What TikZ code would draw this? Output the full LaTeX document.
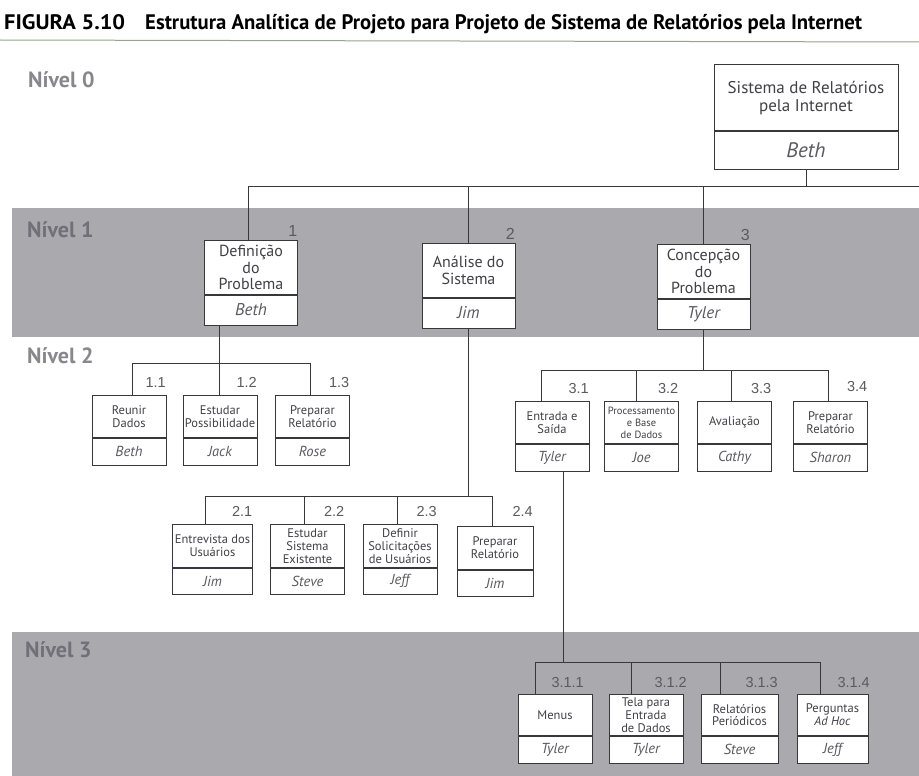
\documentclass[tikz,border=0pt]{standalone}
\usepackage{fontspec}
\setmainfont{PT Sans}
\newfontfamily\numfont{Liberation Sans}
\usetikzlibrary{positioning}
\definecolor{bandgray}{RGB}{170,170,174}
\definecolor{linegray}{RGB}{55,55,60}
\definecolor{textgray}{RGB}{65,65,70}
\definecolor{namegray}{RGB}{90,90,95}
\definecolor{lvlgray}{RGB}{135,135,140}
\definecolor{lvldark}{RGB}{112,112,118}
\definecolor{rulegreen}{RGB}{150,165,140}

\begin{document}
\begin{tikzpicture}[
    x=1pt, y=-1pt,
    task/.style={draw=linegray, line width=1pt, fill=white, align=center, inner sep=1pt, outer sep=0pt, text=textgray},
    top0/.style={task, minimum width=184, minimum height=66, font=\fontsize{17}{18.5}\selectfont},
    top1/.style={task, minimum width=93, minimum height=55, font=\fontsize{16}{16.5}\selectfont},
    top2/.style={task, minimum width=74, minimum height=43, font=\fontsize{12.5}{12.8}\selectfont},
    top3/.style={top2, minimum height=42},
    who0/.style={task, minimum width=184, minimum height=38, text=namegray, font=\fontsize{21}{21}\selectfont\itshape},
    who1/.style={task, minimum width=93, minimum height=30, text=namegray, font=\fontsize{17}{17}\selectfont\itshape},
    who2/.style={task, minimum width=74, minimum height=27, text=namegray, font=\fontsize{14.5}{14.5}\selectfont\itshape},
    num/.style={anchor=base east, inner sep=0pt, text=namegray, font=\numfont\fontsize{14.5}{14.5}\selectfont},
    bignum/.style={num, font=\numfont\fontsize{16}{16}\selectfont},
    lvltag/.style={anchor=base west, inner sep=0pt, font=\fontsize{22}{22}\selectfont\bfseries},
    wire/.style={draw=linegray, line width=1pt},
    divider/.style={draw=linegray, line width=1.8pt}
]
\useasboundingbox (0,0) rectangle (919,776);

% Title
\node[anchor=base west, inner sep=0pt] (fig) at (4,30) {\resizebox{121pt}{\height}{\fontsize{21}{21}\selectfont\bfseries FIGURA 5.10}};
\node[anchor=base west, inner sep=0pt] (title) at (145,30) {\resizebox{717pt}{\height}{\fontsize{21}{21}\selectfont\bfseries Estrutura Analítica de Projeto para Projeto de Sistema de Relatórios pela Internet}};
\draw[rulegreen, line width=1pt] (0,40) -- (919,42);

% Level bands
\fill[bandgray] (12,208) rectangle (919,337);
\fill[bandgray] (12,632) rectangle (919,776);
\node[lvltag, text=lvlgray] (l0) at (28,88) {Nível 0};
\node[lvltag, text=lvldark] (l1) at (27,237) {Nível 1};
\node[lvltag, text=lvlgray] (l2) at (27,363) {Nível 2};
\node[lvltag, text=lvldark] (l3) at (25,657) {Nível 3};

% Level 0
\node[top0, anchor=north] (s0) at (806,65) {Sistema de Relatórios\\pela Internet};
\node[who0, anchor=north] (s0w) at (s0.south) {Beth};
\draw[divider] (s0.south west) -- (s0.south east);

% Level 1
\node[top1, anchor=north] (d1) at (251,240) {Definição\\do\\Problema};
\node[who1, anchor=north] (d1w) at (d1.south) {Beth};
\node[top1, anchor=north] (a2) at (468.5,243) {Análise do\\Sistema};
\node[who1, anchor=north] (a2w) at (a2.south) {Jim};
\node[top1, anchor=north] (c3) at (703.5,244) {Concepção\\do\\Problema};
\node[who1, anchor=north] (c3w) at (c3.south) {Tyler};
\foreach \b in {d1,a2,c3}
  \draw[divider] (\b.south west) -- (\b.south east);
\node[bignum] (n1) at ([yshift=4pt]d1.north east) {1};
\node[bignum] (n2) at ([yshift=4pt]a2.north east) {2};
\node[bignum] (n3) at ([yshift=4pt]c3.north east) {3};

% Level 2, under 1
\node[top2, anchor=north] (t11) at (129,395) {Reunir\\Dados};
\node[who2, anchor=north] (t11w) at (t11.south) {Beth};
\node[top2, anchor=north] (t12) at (220,395) {Estudar\\Possibilidade};
\node[who2, anchor=north] (t12w) at (t12.south) {Jack};
\node[top2, anchor=north] (t13) at (312.5,395) {Preparar\\Relatório};
\node[who2, anchor=north] (t13w) at (t13.south) {Rose};

% Level 2, under 3
\node[top2, anchor=north] (t31) at (552,401) {Entrada e\\Saída};
\node[who2, anchor=north] (t31w) at (t31.south) {Tyler};
\node[top2, anchor=north, font=\fontsize{10.5}{12}\selectfont] (t32) at (641.5,401) {Processamento\\e Base\\de Dados};
\node[who2, anchor=north] (t32w) at (t32.south) {Joe};
\node[top2, anchor=north] (t33) at (734.5,401) {Avaliação};
\node[who2, anchor=north] (t33w) at (t33.south) {Cathy};
\node[top2, anchor=north] (t34) at (830.5,401) {Preparar\\Relatório};
\node[who2, anchor=north] (t34w) at (t34.south) {Sharon};

% Level 2, under 2
\node[top2, anchor=north, minimum width=80, minimum height=44] (t21) at (212.5,524) {Entrevista dos\\Usuários};
\node[who2, anchor=north, minimum width=80, minimum height=26] (t21w) at (t21.south) {Jim};
\node[top2, anchor=north, minimum height=44] (t22) at (307.5,524) {Estudar\\Sistema\\Existente};
\node[who2, anchor=north, minimum height=26] (t22w) at (t22.south) {Steve};
\node[top2, anchor=north, minimum height=44] (t23) at (400,524) {Definir\\Solicitações\\de Usuários};
\node[who2, anchor=north, minimum height=26] (t23w) at (t23.south) {Jeff};
\node[top2, anchor=north, minimum width=76, minimum height=44] (t24) at (495,526) {Preparar\\Relatório};
\node[who2, anchor=north, minimum width=76, minimum height=26] (t24w) at (t24.south) {Jim};

% Level 3, under 3.1
\node[top3, anchor=north] (u1) at (555,694) {Menus};
\node[who2, anchor=north] (u1w) at (u1.south) {Tyler};
\node[top3, anchor=north] (u2) at (646,694) {Tela para\\Entrada\\de Dados};
\node[who2, anchor=north] (u2w) at (u2.south) {Tyler};
\node[top3, anchor=north, minimum width=77] (u3) at (739.5,694) {Relatórios\\Periódicos};
\node[who2, anchor=north, minimum width=77] (u3w) at (u3.south) {Steve};
\node[top3, anchor=north, minimum width=71] (u4) at (832.5,694) {Perguntas\\\textit{Ad Hoc}};
\node[who2, anchor=north, minimum width=71] (u4w) at (u4.south) {Jeff};

\foreach \b in {t11,t12,t13,t21,t22,t23,t24,t31,t32,t33,t34,u1,u2,u3,u4}
  \draw[divider] (\b.south west) -- (\b.south east);

% Numbers
\node[num] (n11) at ([yshift=8pt]t11.north east) {1.1};
\node[num] (n12) at ([yshift=8pt]t12.north east) {1.2};
\node[num] (n13) at ([yshift=8pt]t13.north east) {1.3};
\node[num] (n21) at ([yshift=8pt]t21.north east) {2.1};
\node[num] (n22) at ([yshift=8pt]t22.north east) {2.2};
\node[num] (n23) at ([yshift=8pt]t23.north east) {2.3};
\node[num] (n24) at ([yshift=10pt]t24.north east) {2.4};
\node[num] (n31) at ([yshift=8pt]t31.north east) {3.1};
\node[num] (n32) at ([yshift=8pt]t32.north east) {3.2};
\node[num] (n33) at ([yshift=8pt]t33.north east) {3.3};
\node[num] (n34) at ([yshift=10pt]t34.north east) {3.4};
\node[num] (n311) at ([xshift=-8pt,yshift=7pt]u1.north east) {3.1.1};
\node[num] (n312) at ([xshift=4pt,yshift=7pt]u2.north east) {3.1.2};
\node[num] (n313) at ([yshift=7pt]u3.north east) {3.1.3};
\node[num] (n314) at ([xshift=2pt,yshift=7pt]u4.north east) {3.1.4};

% Connectors, level 0 to 1
\coordinate (j1) at (248,186);
\coordinate (jend) at (919,186);
\draw[wire] (s0w.south) -- (s0w.south |- j1);
\draw[wire] (j1) -- (jend);
\draw[wire] (j1) -- (j1 |- d1.north);
\draw[wire] (a2.north) -- (a2.north |- j1);
\draw[wire] (c3.north) -- (c3.north |- j1);

% Connectors under 1
\coordinate (j11) at (132,363);
\coordinate (j12) at (219,363);
\coordinate (j13) at (310,363);
\draw[wire] (d1w.south -| j12) -- (j12);
\draw[wire] (j11) -- (j13);
\foreach \j/\b in {j11/t11,j12/t12,j13/t13}
  \draw[wire] (\j) -- (\j |- \b.north);

% Connectors under 2
\coordinate (j21) at (205,496);
\coordinate (j22) at (304,496);
\coordinate (j23) at (397,496);
\coordinate (j24) at (492,496);
\draw[wire] (a2w.south) -- (a2w.south |- j21);
\draw[wire] (j21) -- (j24);
\foreach \j/\b in {j21/t21,j22/t22,j23/t23,j24/t24}
  \draw[wire] (\j) -- (\j |- \b.north);

% Connectors under 3
\coordinate (j31) at (541,370);
\coordinate (j32) at (636,370);
\coordinate (j33) at (731,370);
\coordinate (j34) at (828,370);
\draw[wire] (c3w.south) -- (c3w.south |- j31);
\draw[wire] (j31) -- (j34);
\foreach \j/\b in {j31/t31,j32/t32,j33/t33,j34/t34}
  \draw[wire] (\j) -- (\j |- \b.north);

% Connectors under 3.1
\coordinate (jx) at (563,662);
\coordinate (k1) at (535,662);
\coordinate (k2) at (631,662);
\coordinate (k3) at (720,662);
\coordinate (k4) at (820,662);
\draw[wire] (t31w.south -| jx) -- (jx);
\draw[wire] (k1) -- (k4);
\foreach \j/\b in {k1/u1,k2/u2,k3/u3,k4/u4}
  \draw[wire] (\j) -- (\j |- \b.north);
\end{tikzpicture}
\end{document}
